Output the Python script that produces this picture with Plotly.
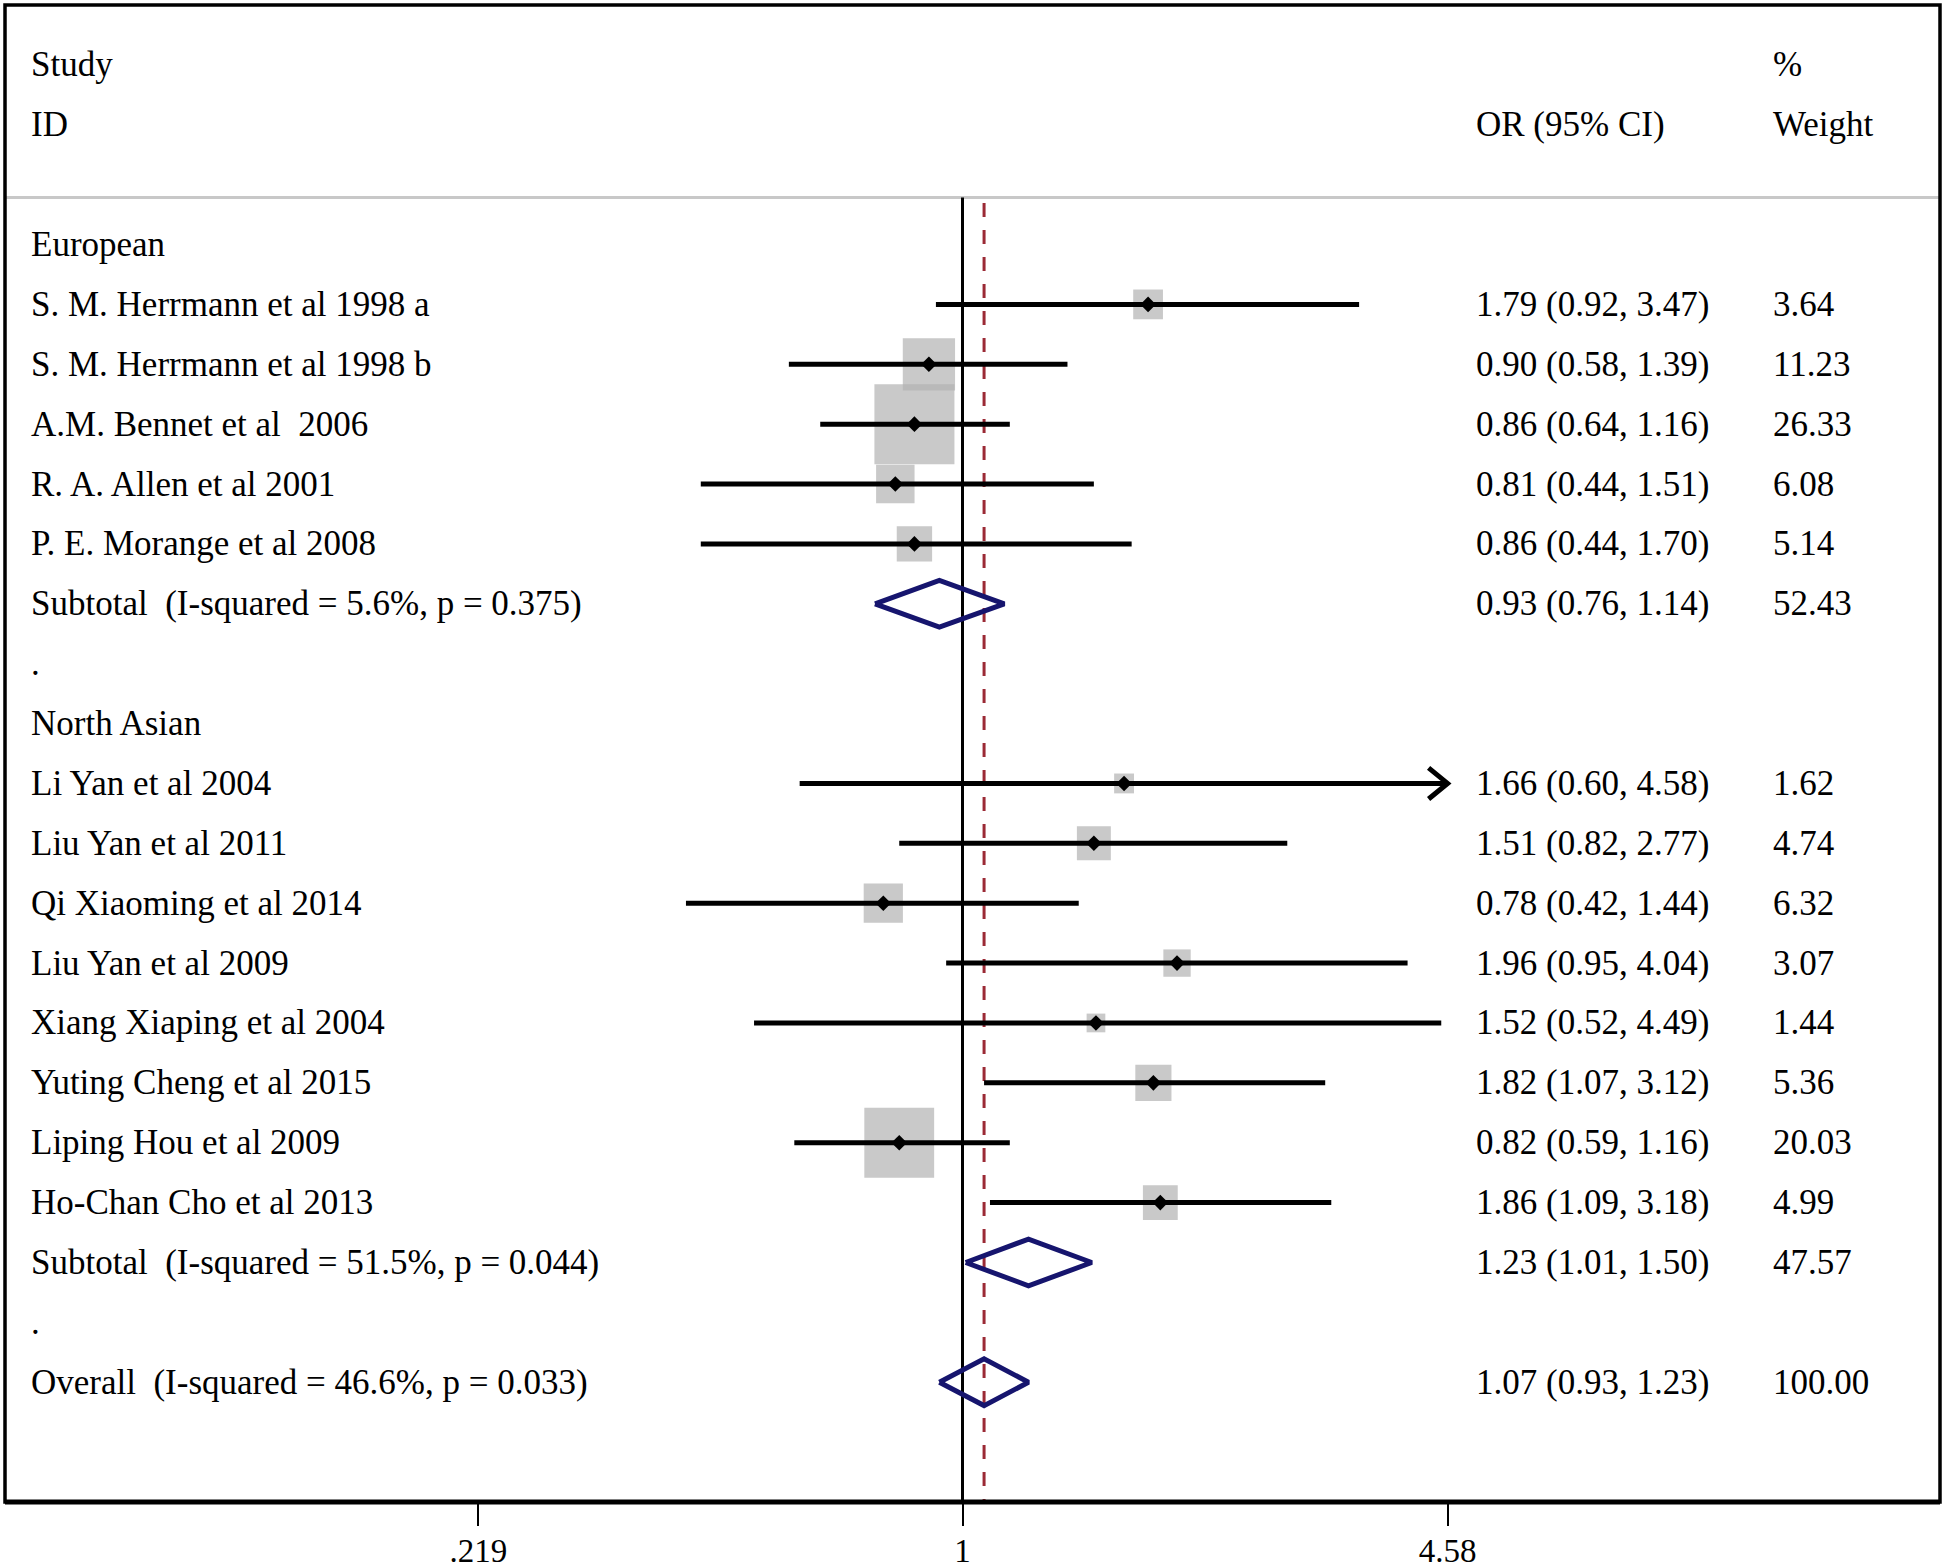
import math
import plotly.graph_objects as go

# ---------------- data ----------------
group_names = ["European", "North Asian"]

eu_studies = ["S. M. Herrmann et al 1998 a", "S. M. Herrmann et al 1998 b",
              "A.M. Bennet et al\u00a0 2006", "R. A. Allen et al 2001",
              "P. E. Morange et al 2008"]
eu_or = [1.79, 0.90, 0.86, 0.81, 0.86]
eu_lo = [0.92, 0.58, 0.64, 0.44, 0.44]
eu_hi = [3.47, 1.39, 1.16, 1.51, 1.70]
eu_w = [3.64, 11.23, 26.33, 6.08, 5.14]

na_studies = ["Li Yan et al 2004", "Liu Yan et al 2011", "Qi Xiaoming et al 2014",
              "Liu Yan et al 2009", "Xiang Xiaping et al 2004", "Yuting Cheng et al 2015",
              "Liping Hou et al 2009", "Ho-Chan Cho et al 2013"]
na_or = [1.66, 1.51, 0.78, 1.96, 1.52, 1.82, 0.82, 1.86]
na_lo = [0.60, 0.82, 0.42, 0.95, 0.52, 1.07, 0.59, 1.09]
na_hi = [4.58, 2.77, 1.44, 4.04, 4.49, 3.12, 1.16, 3.18]
na_w = [1.62, 4.74, 6.32, 3.07, 1.44, 5.36, 20.03, 4.99]

sub_labels = ["Subtotal\u00a0 (I-squared = 5.6%, p = 0.375)",
              "Subtotal\u00a0 (I-squared = 51.5%, p = 0.044)"]
sub_or = [0.93, 1.23]
sub_lo = [0.76, 1.01]
sub_hi = [1.14, 1.50]
sub_w = [52.43, 47.57]

overall_label = "Overall\u00a0 (I-squared = 46.6%, p = 0.033)"
overall_or = 1.07
overall_lo = 0.93
overall_hi = 1.23
overall_w = 100.00

tick_vals = [0.219, 1, 4.58]
tick_text = [".219", "1", "4.58"]

# ---------------- layout of rows ----------------
FONT = "Liberation Serif, Times New Roman, serif"
FS = 35
BOX_GRAY = "rgb(178,178,178)"
NAVY = "#16156e"
MAROON = "#9b2a35"

W, H = 1946, 1568
ML, MR, MT, MB = 5, 6, 5, 66
x_one_px = 962.5
px_per_dec = 734.0
plot_w = W - ML - MR
log_left = -(x_one_px - ML) / px_per_dec
log_right = log_left + plot_w / px_per_dec
x_lim_hi = tick_vals[-1]

rows_text = []   # (row, label, ortext, wtext)
study_rows, study_or, study_lo, study_hi, study_w = [], [], [], [], []
diamonds = []    # (row, or, lo, hi)

row = 0
groups = [(eu_studies, eu_or, eu_lo, eu_hi, eu_w), (na_studies, na_or, na_lo, na_hi, na_w)]
for gi, (names, ors, los, his, ws) in enumerate(groups):
    rows_text.append((row, group_names[gi], "", ""))
    row += 1
    for n, o, l, h, w in zip(names, ors, los, his, ws):
        rows_text.append((row, n, f"{o:.2f} ({l:.2f}, {h:.2f})", f"{w:.2f}"))
        study_rows.append(row); study_or.append(o); study_lo.append(l)
        study_hi.append(h); study_w.append(w)
        row += 1
    rows_text.append((row, sub_labels[gi],
                      f"{sub_or[gi]:.2f} ({sub_lo[gi]:.2f}, {sub_hi[gi]:.2f})", f"{sub_w[gi]:.2f}"))
    diamonds.append((row, sub_or[gi], sub_lo[gi], sub_hi[gi]))
    row += 1
    rows_text.append((row, ".", "", ""))
    row += 1
rows_text.append((row, overall_label,
                  f"{overall_or:.2f} ({overall_lo:.2f}, {overall_hi:.2f})", f"{overall_w:.2f}"))
diamonds.append((row, overall_or, overall_lo, overall_hi))
last_row = row

Y_TOP, Y_BOT = -4, last_row + 2
SEP_Y = -0.785

fig = go.Figure()

# weight boxes
fig.add_trace(go.Scatter(
    x=study_or, y=study_rows, mode="markers",
    marker=dict(symbol="square", size=[15.6 * math.sqrt(w) for w in study_w],
                color=BOX_GRAY, line=dict(width=0)),
    hoverinfo="skip", showlegend=False))

# null line
fig.add_trace(go.Scatter(x=[1, 1], y=[SEP_Y, Y_BOT], mode="lines",
                         line=dict(color="black", width=3),
                         hoverinfo="skip", showlegend=False))
# overall dashed line
fig.add_trace(go.Scatter(x=[overall_or, overall_or], y=[SEP_Y + 0.09, Y_BOT], mode="lines",
                         line=dict(color=MAROON, width=3, dash="14px,13px"),
                         hoverinfo="skip", showlegend=False))

# CI lines and arrows
ci_x, ci_y = [], []
arr_x, arr_y = [], []
for r, l, h in zip(study_rows, study_lo, study_hi):
    hh = min(h, x_lim_hi)
    ci_x += [l, hh, None]
    ci_y += [r, r, None]
    if h >= x_lim_hi:
        back = hh * 10 ** (-19 / px_per_dec)
        arr_x += [back, hh, back, None]
        arr_y += [r - 0.26, r, r + 0.26, None]
fig.add_trace(go.Scatter(x=ci_x, y=ci_y, mode="lines",
                         line=dict(color="black", width=5),
                         hoverinfo="skip", showlegend=False))
fig.add_trace(go.Scatter(x=arr_x, y=arr_y, mode="lines",
                         line=dict(color="black", width=5),
                         hoverinfo="skip", showlegend=False))

# point estimates
fig.add_trace(go.Scatter(x=study_or, y=study_rows, mode="markers",
                         marker=dict(symbol="diamond", size=12, color="black",
                                     line=dict(width=0)),
                         hoverinfo="skip", showlegend=False))

# pooled diamonds
dx, dy = [], []
for r, o, l, h in diamonds:
    dx += [l, o, h, o, l, None]
    dy += [r, r - 0.39, r, r + 0.39, r, None]
fig.add_trace(go.Scatter(x=dx, y=dy, mode="lines",
                         line=dict(color=NAVY, width=5),
                         hoverinfo="skip", showlegend=False))

# ---------------- text ----------------
def px2paper(px):
    return (px - ML) / plot_w

X_LABEL = px2paper(28.5)
X_OR = px2paper(1474)
X_W = px2paper(1771)

ann = []
def txt(x, y, s):
    ann.append(dict(x=x, y=y, xref="paper", yref="y", text=s, showarrow=False,
                    xanchor="left", yanchor="middle",
                    font=dict(family=FONT, size=FS, color="black")))

txt(X_LABEL, -3, "Study")
txt(X_LABEL, -2, "ID")
txt(X_OR, -2, "OR (95% CI)")
txt(X_W, -3, "%")
txt(X_W, -2, "Weight")
for r, lab, ortext, wtext in rows_text:
    txt(X_LABEL, r, lab)
    if ortext:
        txt(X_OR, r, ortext)
    if wtext:
        txt(X_W, r, wtext)

shapes = [
    dict(type="rect", xref="paper", yref="paper", x0=0, x1=1, y0=0, y1=1,
         line=dict(color="black", width=3.5), layer="above"),
    dict(type="line", xref="paper", yref="paper", x0=0, x1=1, y0=0, y1=0,
         line=dict(color="black", width=5), layer="above"),
    dict(type="line", xref="paper", yref="y", x0=0, x1=1, y0=SEP_Y, y1=SEP_Y,
         line=dict(color="rgb(200,200,200)", width=3), layer="below"),
]

fig.update_layout(
    width=W, height=H,
    margin=dict(l=ML, r=MR, t=MT, b=MB, autoexpand=False),
    paper_bgcolor="white", plot_bgcolor="white",
    showlegend=False, hovermode=False,
    annotations=ann, shapes=shapes,
    xaxis=dict(type="log", range=[log_left, log_right], automargin=False,
               tickvals=tick_vals, ticktext=tick_text,
               ticks="outside", ticklen=23, tickwidth=2, tickcolor="black",
               ticklabelstandoff=-4,
               showgrid=False, zeroline=False, showline=False,
               tickfont=dict(family=FONT, size=33, color="black")),
    yaxis=dict(range=[Y_BOT, Y_TOP], visible=False, showgrid=False, zeroline=False,
               automargin=False),
)

post = """
var d=document.documentElement, b=document.body;
d.style.margin='0'; b.style.margin='0';
d.style.overflow='hidden'; b.style.overflow='hidden';
"""

fig.write_html("out.html", config={"displayModeBar": False, "staticPlot": True},
               post_script=post)
